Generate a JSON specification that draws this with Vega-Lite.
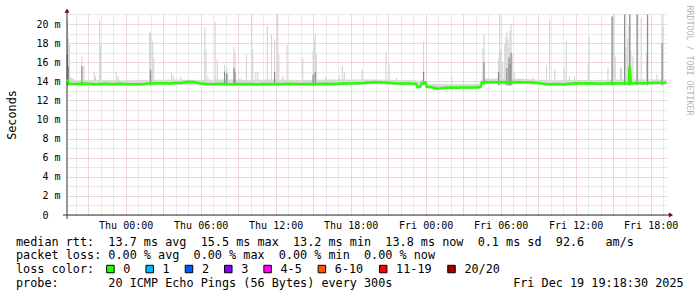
{
"$schema": "https://vega.github.io/schema/vega-lite/v6.json",
"width": 600,
"height": 201,
"autosize": "none",
"padding": {"left": 67, "top": 14, "right": 30, "bottom": 82},
"background": "#ffffff",
"datasets": {
"median": [
{"t":"2025-12-17T19:20:00Z","med":14.2,"loss":"0"},
{"t":"2025-12-17T19:30:00Z","med":13.75,"loss":"0"},
{"t":"2025-12-17T20:00:00Z","med":13.72,"loss":"0"},
{"t":"2025-12-17T20:30:00Z","med":13.78,"loss":"0"},
{"t":"2025-12-17T21:00:00Z","med":13.75,"loss":"0"},
{"t":"2025-12-17T21:30:00Z","med":13.7,"loss":"0"},
{"t":"2025-12-17T22:00:00Z","med":13.72,"loss":"0"},
{"t":"2025-12-17T22:30:00Z","med":13.75,"loss":"0"},
{"t":"2025-12-17T23:00:00Z","med":13.7,"loss":"0"},
{"t":"2025-12-17T23:30:00Z","med":13.74,"loss":"0"},
{"t":"2025-12-18T00:00:00Z","med":13.72,"loss":"0"},
{"t":"2025-12-18T00:30:00Z","med":13.68,"loss":"0"},
{"t":"2025-12-18T01:00:00Z","med":13.7,"loss":"0"},
{"t":"2025-12-18T01:30:00Z","med":13.72,"loss":"0"},
{"t":"2025-12-18T02:00:00Z","med":13.76,"loss":"0"},
{"t":"2025-12-18T02:30:00Z","med":13.8,"loss":"0"},
{"t":"2025-12-18T03:00:00Z","med":13.8,"loss":"0"},
{"t":"2025-12-18T03:30:00Z","med":13.78,"loss":"0"},
{"t":"2025-12-18T04:00:00Z","med":13.82,"loss":"0"},
{"t":"2025-12-18T04:30:00Z","med":13.86,"loss":"0"},
{"t":"2025-12-18T05:00:00Z","med":13.95,"loss":"0"},
{"t":"2025-12-18T05:30:00Z","med":13.92,"loss":"0"},
{"t":"2025-12-18T06:00:00Z","med":13.76,"loss":"0"},
{"t":"2025-12-18T06:30:00Z","med":13.72,"loss":"0"},
{"t":"2025-12-18T07:00:00Z","med":13.7,"loss":"0"},
{"t":"2025-12-18T07:30:00Z","med":13.74,"loss":"0"},
{"t":"2025-12-18T08:00:00Z","med":13.72,"loss":"0"},
{"t":"2025-12-18T08:30:00Z","med":13.68,"loss":"0"},
{"t":"2025-12-18T09:00:00Z","med":13.72,"loss":"0"},
{"t":"2025-12-18T09:30:00Z","med":13.7,"loss":"0"},
{"t":"2025-12-18T10:00:00Z","med":13.72,"loss":"0"},
{"t":"2025-12-18T10:30:00Z","med":13.66,"loss":"0"},
{"t":"2025-12-18T11:00:00Z","med":13.72,"loss":"0"},
{"t":"2025-12-18T11:30:00Z","med":13.7,"loss":"0"},
{"t":"2025-12-18T12:00:00Z","med":13.72,"loss":"0"},
{"t":"2025-12-18T12:30:00Z","med":13.7,"loss":"0"},
{"t":"2025-12-18T13:00:00Z","med":13.74,"loss":"0"},
{"t":"2025-12-18T13:30:00Z","med":13.72,"loss":"0"},
{"t":"2025-12-18T14:00:00Z","med":13.7,"loss":"0"},
{"t":"2025-12-18T14:30:00Z","med":13.72,"loss":"0"},
{"t":"2025-12-18T15:00:00Z","med":13.7,"loss":"0"},
{"t":"2025-12-18T15:30:00Z","med":13.72,"loss":"0"},
{"t":"2025-12-18T16:00:00Z","med":13.74,"loss":"0"},
{"t":"2025-12-18T16:30:00Z","med":13.72,"loss":"0"},
{"t":"2025-12-18T17:00:00Z","med":13.74,"loss":"0"},
{"t":"2025-12-18T17:30:00Z","med":13.76,"loss":"0"},
{"t":"2025-12-18T18:00:00Z","med":13.76,"loss":"0"},
{"t":"2025-12-18T18:30:00Z","med":13.8,"loss":"0"},
{"t":"2025-12-18T19:00:00Z","med":13.82,"loss":"0"},
{"t":"2025-12-18T19:30:00Z","med":13.88,"loss":"0"},
{"t":"2025-12-18T20:00:00Z","med":13.9,"loss":"0"},
{"t":"2025-12-18T20:30:00Z","med":13.88,"loss":"0"},
{"t":"2025-12-18T21:00:00Z","med":13.86,"loss":"0"},
{"t":"2025-12-18T21:30:00Z","med":13.8,"loss":"0"},
{"t":"2025-12-18T22:00:00Z","med":13.78,"loss":"0"},
{"t":"2025-12-18T22:30:00Z","med":13.76,"loss":"0"},
{"t":"2025-12-18T23:00:00Z","med":13.74,"loss":"0"},
{"t":"2025-12-18T23:15:00Z","med":13.72,"loss":"0"},
{"t":"2025-12-18T23:20:00Z","med":13.4,"loss":"0"},
{"t":"2025-12-18T23:35:00Z","med":13.45,"loss":"0"},
{"t":"2025-12-18T23:40:00Z","med":13.75,"loss":"0"},
{"t":"2025-12-18T23:50:00Z","med":13.9,"loss":"0"},
{"t":"2025-12-19T00:00:00Z","med":13.88,"loss":"0"},
{"t":"2025-12-19T00:05:00Z","med":13.42,"loss":"0"},
{"t":"2025-12-19T00:30:00Z","med":13.38,"loss":"0"},
{"t":"2025-12-19T00:45:00Z","med":13.3,"loss":"0"},
{"t":"2025-12-19T00:55:00Z","med":13.22,"loss":"0"},
{"t":"2025-12-19T01:10:00Z","med":13.26,"loss":"0"},
{"t":"2025-12-19T01:30:00Z","med":13.32,"loss":"0"},
{"t":"2025-12-19T02:00:00Z","med":13.35,"loss":"0"},
{"t":"2025-12-19T02:30:00Z","med":13.33,"loss":"0"},
{"t":"2025-12-19T03:00:00Z","med":13.36,"loss":"0"},
{"t":"2025-12-19T03:30:00Z","med":13.35,"loss":"0"},
{"t":"2025-12-19T04:00:00Z","med":13.36,"loss":"0"},
{"t":"2025-12-19T04:20:00Z","med":13.4,"loss":"0"},
{"t":"2025-12-19T04:25:00Z","med":13.45,"loss":"0"},
{"t":"2025-12-19T04:30:00Z","med":13.9,"loss":"0"},
{"t":"2025-12-19T05:00:00Z","med":13.92,"loss":"0"},
{"t":"2025-12-19T05:30:00Z","med":13.9,"loss":"0"},
{"t":"2025-12-19T06:00:00Z","med":13.92,"loss":"0"},
{"t":"2025-12-19T06:30:00Z","med":13.9,"loss":"0"},
{"t":"2025-12-19T07:00:00Z","med":13.92,"loss":"0"},
{"t":"2025-12-19T07:30:00Z","med":13.9,"loss":"0"},
{"t":"2025-12-19T08:00:00Z","med":13.9,"loss":"0"},
{"t":"2025-12-19T08:30:00Z","med":13.88,"loss":"0"},
{"t":"2025-12-19T09:00:00Z","med":13.82,"loss":"0"},
{"t":"2025-12-19T09:30:00Z","med":13.72,"loss":"0"},
{"t":"2025-12-19T10:00:00Z","med":13.7,"loss":"0"},
{"t":"2025-12-19T10:30:00Z","med":13.72,"loss":"0"},
{"t":"2025-12-19T11:00:00Z","med":13.66,"loss":"0"},
{"t":"2025-12-19T11:30:00Z","med":13.74,"loss":"0"},
{"t":"2025-12-19T12:00:00Z","med":13.8,"loss":"0"},
{"t":"2025-12-19T12:30:00Z","med":13.78,"loss":"0"},
{"t":"2025-12-19T13:00:00Z","med":13.8,"loss":"0"},
{"t":"2025-12-19T13:30:00Z","med":13.78,"loss":"0"},
{"t":"2025-12-19T14:00:00Z","med":13.74,"loss":"0"},
{"t":"2025-12-19T14:30:00Z","med":13.78,"loss":"0"},
{"t":"2025-12-19T15:00:00Z","med":13.8,"loss":"0"},
{"t":"2025-12-19T15:30:00Z","med":13.78,"loss":"0"},
{"t":"2025-12-19T16:00:00Z","med":13.8,"loss":"0"},
{"t":"2025-12-19T16:15:00Z","med":13.8,"loss":"0"},
{"t":"2025-12-19T16:20:00Z","med":15.55,"loss":"0"},
{"t":"2025-12-19T16:25:00Z","med":13.78,"loss":"0"},
{"t":"2025-12-19T16:30:00Z","med":13.76,"loss":"0"},
{"t":"2025-12-19T17:00:00Z","med":13.82,"loss":"0"},
{"t":"2025-12-19T17:30:00Z","med":13.8,"loss":"0"},
{"t":"2025-12-19T18:00:00Z","med":13.82,"loss":"0"},
{"t":"2025-12-19T18:30:00Z","med":13.84,"loss":"0"},
{"t":"2025-12-19T19:00:00Z","med":13.85,"loss":"0"},
{"t":"2025-12-19T19:15:00Z","med":13.85,"loss":"0"}
],
"band": [
{"t":"2025-12-17T19:20:00Z","lo":13.6,"hi":14.6},
{"t":"2025-12-17T20:00:00Z","lo":13.6,"hi":14.1},
{"t":"2025-12-17T22:00:00Z","lo":13.6,"hi":14.15},
{"t":"2025-12-18T00:00:00Z","lo":13.55,"hi":14.1},
{"t":"2025-12-18T02:00:00Z","lo":13.6,"hi":14.15},
{"t":"2025-12-18T04:00:00Z","lo":13.65,"hi":14.2},
{"t":"2025-12-18T06:00:00Z","lo":13.6,"hi":14.15},
{"t":"2025-12-18T08:00:00Z","lo":13.6,"hi":14.2},
{"t":"2025-12-18T10:00:00Z","lo":13.55,"hi":14.15},
{"t":"2025-12-18T12:00:00Z","lo":13.6,"hi":14.2},
{"t":"2025-12-18T14:00:00Z","lo":13.6,"hi":14.15},
{"t":"2025-12-18T16:00:00Z","lo":13.6,"hi":14.2},
{"t":"2025-12-18T18:00:00Z","lo":13.6,"hi":14.2},
{"t":"2025-12-18T20:00:00Z","lo":13.7,"hi":14.2},
{"t":"2025-12-18T22:00:00Z","lo":13.6,"hi":14.15},
{"t":"2025-12-18T23:15:00Z","lo":13.6,"hi":14.1},
{"t":"2025-12-18T23:20:00Z","lo":13.3,"hi":14.0},
{"t":"2025-12-18T23:50:00Z","lo":13.7,"hi":14.2},
{"t":"2025-12-19T00:05:00Z","lo":13.3,"hi":13.75},
{"t":"2025-12-19T02:00:00Z","lo":13.2,"hi":13.7},
{"t":"2025-12-19T04:25:00Z","lo":13.25,"hi":13.75},
{"t":"2025-12-19T04:30:00Z","lo":13.75,"hi":14.3},
{"t":"2025-12-19T06:00:00Z","lo":13.75,"hi":14.3},
{"t":"2025-12-19T08:00:00Z","lo":13.75,"hi":14.25},
{"t":"2025-12-19T10:00:00Z","lo":13.55,"hi":14.1},
{"t":"2025-12-19T12:00:00Z","lo":13.65,"hi":14.15},
{"t":"2025-12-19T14:00:00Z","lo":13.65,"hi":14.15},
{"t":"2025-12-19T16:00:00Z","lo":13.65,"hi":14.2},
{"t":"2025-12-19T18:00:00Z","lo":13.65,"hi":14.2},
{"t":"2025-12-19T19:18:00Z","lo":13.65,"hi":14.2}
],
"smoke": [
{"t":"2025-12-17T19:20:00Z","lo":13.6,"hi":20.4},
{"t":"2025-12-17T19:25:00Z","lo":13.6,"hi":18.5},
{"t":"2025-12-17T19:30:00Z","lo":13.6,"hi":17.8},
{"t":"2025-12-17T20:30:00Z","lo":13.6,"hi":16.6},
{"t":"2025-12-17T20:40:00Z","lo":13.6,"hi":15.6},
{"t":"2025-12-17T21:30:00Z","lo":13.6,"hi":15.0},
{"t":"2025-12-17T21:35:00Z","lo":13.6,"hi":14.5},
{"t":"2025-12-17T21:55:00Z","lo":13.6,"hi":20.35},
{"t":"2025-12-17T22:00:00Z","lo":13.6,"hi":17.8},
{"t":"2025-12-17T23:15:00Z","lo":13.6,"hi":15.0},
{"t":"2025-12-17T23:25:00Z","lo":13.6,"hi":14.5},
{"t":"2025-12-18T01:55:00Z","lo":13.6,"hi":19.2},
{"t":"2025-12-18T02:00:00Z","lo":13.6,"hi":19.0},
{"t":"2025-12-18T02:10:00Z","lo":13.6,"hi":18.2},
{"t":"2025-12-18T02:15:00Z","lo":13.6,"hi":16.4},
{"t":"2025-12-18T03:40:00Z","lo":13.6,"hi":14.9},
{"t":"2025-12-18T03:50:00Z","lo":13.6,"hi":14.5},
{"t":"2025-12-18T04:25:00Z","lo":13.6,"hi":14.5},
{"t":"2025-12-18T06:20:00Z","lo":13.6,"hi":19.6},
{"t":"2025-12-18T06:25:00Z","lo":13.6,"hi":17.3},
{"t":"2025-12-18T06:35:00Z","lo":13.6,"hi":14.5},
{"t":"2025-12-18T07:10:00Z","lo":13.6,"hi":20.2},
{"t":"2025-12-18T07:20:00Z","lo":13.6,"hi":16.3},
{"t":"2025-12-18T07:55:00Z","lo":13.6,"hi":15.7},
{"t":"2025-12-18T08:05:00Z","lo":13.6,"hi":15.4},
{"t":"2025-12-18T08:10:00Z","lo":13.6,"hi":14.9},
{"t":"2025-12-18T08:40:00Z","lo":13.6,"hi":17.6},
{"t":"2025-12-18T08:45:00Z","lo":13.6,"hi":17.0},
{"t":"2025-12-18T09:05:00Z","lo":13.6,"hi":14.3},
{"t":"2025-12-18T09:15:00Z","lo":13.6,"hi":14.3},
{"t":"2025-12-18T09:40:00Z","lo":13.6,"hi":16.8},
{"t":"2025-12-18T10:05:00Z","lo":13.6,"hi":21.0},
{"t":"2025-12-18T10:10:00Z","lo":13.6,"hi":17.3},
{"t":"2025-12-18T10:25:00Z","lo":13.6,"hi":15.0},
{"t":"2025-12-18T10:35:00Z","lo":13.6,"hi":15.0},
{"t":"2025-12-18T11:20:00Z","lo":13.6,"hi":19.8},
{"t":"2025-12-18T11:40:00Z","lo":13.6,"hi":18.9},
{"t":"2025-12-18T11:55:00Z","lo":13.6,"hi":18.4},
{"t":"2025-12-18T12:10:00Z","lo":13.6,"hi":21.0},
{"t":"2025-12-18T12:15:00Z","lo":13.6,"hi":16.8},
{"t":"2025-12-18T12:35:00Z","lo":13.6,"hi":14.5},
{"t":"2025-12-18T12:55:00Z","lo":13.6,"hi":17.8},
{"t":"2025-12-18T14:10:00Z","lo":13.6,"hi":16.4},
{"t":"2025-12-18T15:00:00Z","lo":13.6,"hi":17.1},
{"t":"2025-12-18T15:05:00Z","lo":13.6,"hi":18.2},
{"t":"2025-12-18T15:10:00Z","lo":13.6,"hi":18.9},
{"t":"2025-12-18T15:15:00Z","lo":13.6,"hi":16.8},
{"t":"2025-12-18T16:00:00Z","lo":13.6,"hi":14.5},
{"t":"2025-12-18T17:05:00Z","lo":13.6,"hi":14.7},
{"t":"2025-12-18T17:20:00Z","lo":13.6,"hi":15.6},
{"t":"2025-12-18T17:30:00Z","lo":13.6,"hi":14.9},
{"t":"2025-12-18T18:55:00Z","lo":13.6,"hi":15.2},
{"t":"2025-12-18T20:50:00Z","lo":13.6,"hi":17.1},
{"t":"2025-12-18T21:05:00Z","lo":13.6,"hi":15.7},
{"t":"2025-12-18T21:40:00Z","lo":13.6,"hi":14.4},
{"t":"2025-12-18T23:50:00Z","lo":13.6,"hi":18.2},
{"t":"2025-12-19T02:05:00Z","lo":13.3,"hi":14.5},
{"t":"2025-12-19T04:35:00Z","lo":13.6,"hi":17.5},
{"t":"2025-12-19T04:40:00Z","lo":13.6,"hi":18.9},
{"t":"2025-12-19T05:50:00Z","lo":13.6,"hi":16.4},
{"t":"2025-12-19T05:55:00Z","lo":13.6,"hi":21.0},
{"t":"2025-12-19T06:00:00Z","lo":13.6,"hi":17.2},
{"t":"2025-12-19T06:10:00Z","lo":13.6,"hi":16.0},
{"t":"2025-12-19T06:20:00Z","lo":13.6,"hi":18.0},
{"t":"2025-12-19T06:25:00Z","lo":13.6,"hi":18.6},
{"t":"2025-12-19T06:30:00Z","lo":13.6,"hi":19.2},
{"t":"2025-12-19T06:35:00Z","lo":13.6,"hi":18.4},
{"t":"2025-12-19T06:40:00Z","lo":13.6,"hi":17.5},
{"t":"2025-12-19T06:45:00Z","lo":13.6,"hi":19.3},
{"t":"2025-12-19T06:50:00Z","lo":13.6,"hi":20.0},
{"t":"2025-12-19T06:55:00Z","lo":13.6,"hi":16.8},
{"t":"2025-12-19T07:05:00Z","lo":13.6,"hi":15.0},
{"t":"2025-12-19T08:35:00Z","lo":13.6,"hi":14.4},
{"t":"2025-12-19T09:40:00Z","lo":13.6,"hi":15.7},
{"t":"2025-12-19T09:55:00Z","lo":13.6,"hi":20.5},
{"t":"2025-12-19T10:20:00Z","lo":13.6,"hi":15.2},
{"t":"2025-12-19T11:05:00Z","lo":13.6,"hi":15.4},
{"t":"2025-12-19T11:15:00Z","lo":13.6,"hi":18.2},
{"t":"2025-12-19T11:30:00Z","lo":13.6,"hi":14.5},
{"t":"2025-12-19T11:55:00Z","lo":13.6,"hi":14.5},
{"t":"2025-12-19T13:00:00Z","lo":13.6,"hi":15.7},
{"t":"2025-12-19T13:05:00Z","lo":13.6,"hi":18.7},
{"t":"2025-12-19T14:35:00Z","lo":13.6,"hi":15.4},
{"t":"2025-12-19T14:55:00Z","lo":13.6,"hi":20.8},
{"t":"2025-12-19T15:05:00Z","lo":13.6,"hi":21.0},
{"t":"2025-12-19T15:10:00Z","lo":13.6,"hi":16.6},
{"t":"2025-12-19T15:35:00Z","lo":13.6,"hi":15.4},
{"t":"2025-12-19T15:40:00Z","lo":13.6,"hi":15.4},
{"t":"2025-12-19T15:55:00Z","lo":13.6,"hi":21.0},
{"t":"2025-12-19T16:00:00Z","lo":13.6,"hi":17.6},
{"t":"2025-12-19T16:10:00Z","lo":13.6,"hi":18.5},
{"t":"2025-12-19T16:15:00Z","lo":13.6,"hi":19.8},
{"t":"2025-12-19T16:20:00Z","lo":13.6,"hi":21.0},
{"t":"2025-12-19T16:25:00Z","lo":13.6,"hi":17.2},
{"t":"2025-12-19T16:35:00Z","lo":13.6,"hi":16.6},
{"t":"2025-12-19T16:55:00Z","lo":13.6,"hi":21.0},
{"t":"2025-12-19T17:15:00Z","lo":13.6,"hi":20.7},
{"t":"2025-12-19T17:40:00Z","lo":13.6,"hi":17.0},
{"t":"2025-12-19T17:45:00Z","lo":13.6,"hi":21.0},
{"t":"2025-12-19T18:30:00Z","lo":13.6,"hi":14.7},
{"t":"2025-12-19T18:55:00Z","lo":13.6,"hi":21.0},
{"t":"2025-12-19T19:00:00Z","lo":13.6,"hi":19.6}
],
"smokecore": [
{"t":"2025-12-17T19:20:00Z","lo":13.6,"hi":16.8},
{"t":"2025-12-17T19:25:00Z","lo":13.6,"hi":15.5},
{"t":"2025-12-17T20:30:00Z","lo":13.6,"hi":15.6},
{"t":"2025-12-18T02:00:00Z","lo":13.6,"hi":15.2},
{"t":"2025-12-18T07:55:00Z","lo":13.6,"hi":15.0},
{"t":"2025-12-18T08:05:00Z","lo":13.6,"hi":14.8},
{"t":"2025-12-18T08:40:00Z","lo":13.6,"hi":15.4},
{"t":"2025-12-18T08:45:00Z","lo":13.6,"hi":15.0},
{"t":"2025-12-18T11:55:00Z","lo":13.6,"hi":15.0},
{"t":"2025-12-18T15:00:00Z","lo":13.6,"hi":14.7},
{"t":"2025-12-18T15:10:00Z","lo":13.6,"hi":15.0},
{"t":"2025-12-18T23:50:00Z","lo":13.6,"hi":15.0},
{"t":"2025-12-19T04:40:00Z","lo":13.6,"hi":16.0},
{"t":"2025-12-19T05:50:00Z","lo":13.6,"hi":15.0},
{"t":"2025-12-19T06:30:00Z","lo":13.6,"hi":15.4},
{"t":"2025-12-19T06:40:00Z","lo":13.6,"hi":16.5},
{"t":"2025-12-19T06:45:00Z","lo":13.6,"hi":15.8},
{"t":"2025-12-19T06:50:00Z","lo":13.6,"hi":17.0},
{"t":"2025-12-19T14:55:00Z","lo":13.6,"hi":20.8},
{"t":"2025-12-19T15:55:00Z","lo":13.6,"hi":21.0},
{"t":"2025-12-19T16:15:00Z","lo":13.6,"hi":15.4},
{"t":"2025-12-19T16:20:00Z","lo":13.6,"hi":21.0},
{"t":"2025-12-19T16:55:00Z","lo":13.6,"hi":21.0},
{"t":"2025-12-19T17:45:00Z","lo":13.6,"hi":21.0},
{"t":"2025-12-19T18:55:00Z","lo":13.6,"hi":18.0}
]
},
"layer": [
{"data":{"name":"band"},"mark":{"type":"area","color":"#d9d9d9"},
 "encoding":{
  "x":{"field":"t","type":"temporal","scale":{"type":"utc","nice":false,"domain":[{"year":2025,"month":12,"date":17,"hours":19,"minutes":18,"seconds":30,"utc":true},{"year":2025,"month":12,"date":19,"hours":19,"minutes":18,"seconds":30,"utc":true}]}},
  "y":{"field":"lo","type":"quantitative","scale":{"domain":[0,21.05],"nice":false,"zero":false},"axis":null},
  "y2":{"field":"hi"}}},
{"data":{"name":"smoke"},"mark":{"type":"rule","color":"#d6d6d6","strokeWidth":1.2},
 "encoding":{
  "x":{"field":"t","type":"temporal","scale":{"type":"utc","nice":false,"domain":[{"year":2025,"month":12,"date":17,"hours":19,"minutes":18,"seconds":30,"utc":true},{"year":2025,"month":12,"date":19,"hours":19,"minutes":18,"seconds":30,"utc":true}]}},
  "y":{"field":"lo","type":"quantitative","scale":{"domain":[0,21.05],"nice":false,"zero":false},"axis":null},
  "y2":{"field":"hi"}}},
{"data":{"name":"smokecore"},"mark":{"type":"rule","color":"#8c8c8c","strokeWidth":1.2},
 "encoding":{
  "x":{"field":"t","type":"temporal","scale":{"type":"utc","nice":false,"domain":[{"year":2025,"month":12,"date":17,"hours":19,"minutes":18,"seconds":30,"utc":true},{"year":2025,"month":12,"date":19,"hours":19,"minutes":18,"seconds":30,"utc":true}]}},
  "y":{"field":"lo","type":"quantitative","scale":{"domain":[0,21.05],"nice":false,"zero":false},"axis":null},
  "y2":{"field":"hi"}}},
{"data":{"name":"median"},"mark":{"type":"square","filled":true,"opacity":0},
 "encoding":{
  "x":{"field":"t","type":"temporal","scale":{"type":"utc","nice":false,"domain":[{"year":2025,"month":12,"date":17,"hours":19,"minutes":18,"seconds":30,"utc":true},{"year":2025,"month":12,"date":19,"hours":19,"minutes":18,"seconds":30,"utc":true}]}},
  "y":{"field":"med","type":"quantitative","scale":{"domain":[0,21.05],"nice":false,"zero":false},"axis":null},
  "fill":{"field":"loss","type":"nominal","scale":{"domain":["0","1","2","3","4-5","6-10","11-19","20/20"],"range":["#26ff00","#00b8ff","#0059ff","#7e00ff","#ff00ff","#ff5500","#ff0000","#a10000"]},
   "legend":{"orient":"none","legendX":37.5,"legendY":249,"direction":"horizontal","title":null,
    "symbolType":"square","symbolSize":56,"symbolStrokeColor":"#000000","symbolStrokeWidth":1,"symbolOpacity":1,
    "labelFont":"DejaVu Sans Mono","labelFontSize":11.8,"labelColor":"#000000","labelOffset":7,"columnPadding":13.3,"rowPadding":0,"padding":0}}}},
{"data":{"values":[{}]},"mark":{"type":"rule","color":"#333333","strokeWidth":1},
 "encoding":{
  "x":{"datum":{"year":2025,"month":12,"date":17,"hours":19,"minutes":18,"seconds":30,"utc":true},"type":"temporal","scale":{"type":"utc","nice":false,"domain":[{"year":2025,"month":12,"date":17,"hours":19,"minutes":18,"seconds":30,"utc":true},{"year":2025,"month":12,"date":19,"hours":19,"minutes":18,"seconds":30,"utc":true}]}},
  "y":{"datum":-0.42,"type":"quantitative","scale":{"domain":[0,21.05],"nice":false,"zero":false},
   "axis":{"orient":"right","labels":false,"ticks":false,"domain":false,"grid":false,
    "title":"RRDTOOL / TOBI OETIKER","titleFont":"DejaVu Sans Mono","titleFontSize":8.3,"titleFontWeight":"normal","titleColor":"#b4b4b4",
    "titleAngle":90,"titleX":21,"titleY":-9,"titleAlign":"left","titleBaseline":"middle"}},
  "y2":{"datum":21.3}}},
{"data":{"values":[{}]},"mark":{"type":"rule","color":"#333333","strokeWidth":1},
 "encoding":{
  "x":{"datum":{"year":2025,"month":12,"date":17,"hours":18,"minutes":59,"seconds":30,"utc":true},"type":"temporal","scale":{"type":"utc","nice":false,"domain":[{"year":2025,"month":12,"date":17,"hours":19,"minutes":18,"seconds":30,"utc":true},{"year":2025,"month":12,"date":19,"hours":19,"minutes":18,"seconds":30,"utc":true}]}},
  "x2":{"datum":{"year":2025,"month":12,"date":19,"hours":19,"minutes":30,"seconds":0,"utc":true}},
  "y":{"datum":0,"type":"quantitative","scale":{"domain":[0,21.05],"nice":false,"zero":false},"axis":null}}},
{"data":{"values":[{}]},"mark":{"type":"point","shape":"triangle-up","filled":true,"color":"#7f0000","size":24,"opacity":1},
 "encoding":{
  "x":{"datum":{"year":2025,"month":12,"date":17,"hours":19,"minutes":18,"seconds":30,"utc":true},"type":"temporal","scale":{"type":"utc","nice":false,"domain":[{"year":2025,"month":12,"date":17,"hours":19,"minutes":18,"seconds":30,"utc":true},{"year":2025,"month":12,"date":19,"hours":19,"minutes":18,"seconds":30,"utc":true}]}},
  "y":{"datum":21.41,"type":"quantitative","scale":{"domain":[0,21.05],"nice":false,"zero":false},"axis":null}}},
{"data":{"values":[{}]},"mark":{"type":"point","shape":"triangle-right","filled":true,"color":"#7f0000","size":24,"opacity":1},
 "encoding":{
  "x":{"datum":{"year":2025,"month":12,"date":19,"hours":19,"minutes":37,"seconds":30,"utc":true},"type":"temporal","scale":{"type":"utc","nice":false,"domain":[{"year":2025,"month":12,"date":17,"hours":19,"minutes":18,"seconds":30,"utc":true},{"year":2025,"month":12,"date":19,"hours":19,"minutes":18,"seconds":30,"utc":true}]}},
  "y":{"datum":0,"type":"quantitative","scale":{"domain":[0,21.05],"nice":false,"zero":false},"axis":null}}},
{"data":{"name":"median"},"mark":{"type":"line","strokeWidth":2.5,"color":"#26ff00"},
 "encoding":{
  "x":{"field":"t","type":"temporal","scale":{"type":"utc","nice":false,"domain":[{"year":2025,"month":12,"date":17,"hours":19,"minutes":18,"seconds":30,"utc":true},{"year":2025,"month":12,"date":19,"hours":19,"minutes":18,"seconds":30,"utc":true}]},
   "axis":{"tickCount":48,"grid":true,
    "gridColor":{"condition":{"test":"utchours(datum.value) % 3 === 0","value":"#dcb0b0"},"value":"#d4d4d4"},
    "gridDash":[1,1],"gridWidth":1,"ticks":false,"tickSize":0,"domain":false,
    "labelExpr":"utchours(datum.value) % 6 === 0 ? utcFormat(datum.value, '%a %H:%M') : ''",
    "labelFont":"DejaVu Sans Mono","labelFontSize":10,"labelColor":"#000000","labelPadding":5.5,"labelOverlap":false,"labelFlush":false,"labelAngle":0,
    "title":["median rtt:\u00a0\u00a013.7 ms avg\u00a0\u00a015.5 ms max\u00a0\u00a013.2 ms min\u00a0\u00a013.8 ms now\u00a0\u00a00.1 ms sd\u00a0\u00a092.6\u00a0\u00a0\u00a0am/s","packet loss: 0.00 % avg\u00a0\u00a00.00 % max\u00a0\u00a00.00 % min\u00a0\u00a00.00 % now","loss color:","probe:\u00a0\u00a0\u00a0\u00a0\u00a0\u00a0\u00a020 ICMP Echo Pings (56 Bytes) every 300s\u00a0\u00a0\u00a0\u00a0\u00a0\u00a0\u00a0\u00a0\u00a0\u00a0\u00a0\u00a0\u00a0\u00a0\u00a0\u00a0\u00a0Fri Dec 19 19:18:30 2025"],
    "titleFont":"DejaVu Sans Mono","titleFontSize":11.8,"titleFontWeight":"normal","titleColor":"#000000",
    "titleX":-51.5,"titleY":30.3,"titleAlign":"left","titleAnchor":"start","titleBaseline":"alphabetic","titleLineHeight":13.67,"titleAngle":0}},
  "y":{"field":"med","type":"quantitative","scale":{"domain":[0,21.05],"nice":false,"zero":false},
   "axis":{"values":[0,1,2,3,4,5,6,7,8,9,10,11,12,13,14,15,16,17,18,19,20,21],"grid":true,
    "gridColor":{"condition":{"test":"datum.value % 2 === 0","value":"#dcb0b0"},"value":"#d4d4d4"},
    "gridDash":[1,1],"gridWidth":1,"ticks":false,"tickSize":0,"domain":false,
    "labelExpr":"datum.value === 0 ? '0\u00a0\u00a0\u200b' : (datum.value % 2 === 0 ? datum.value + ' m' : '')",
    "labelFont":"DejaVu Sans Mono","labelFontSize":10,"labelColor":"#000000","labelPadding":7,"labelOverlap":false,"labelFlush":false,
    "title":"Seconds","titleFont":"DejaVu Sans Mono","titleFontSize":11.8,"titleFontWeight":"normal","titleColor":"#000000",
    "titleX":-56,"titleY":100.5,"titleAngle":-90,"titleAlign":"center","titleBaseline":"middle"}}}}
],
"resolve":{"axis":{"y":"independent"}},
"config":{"view":{"stroke":null},"font":"DejaVu Sans Mono"}
}
